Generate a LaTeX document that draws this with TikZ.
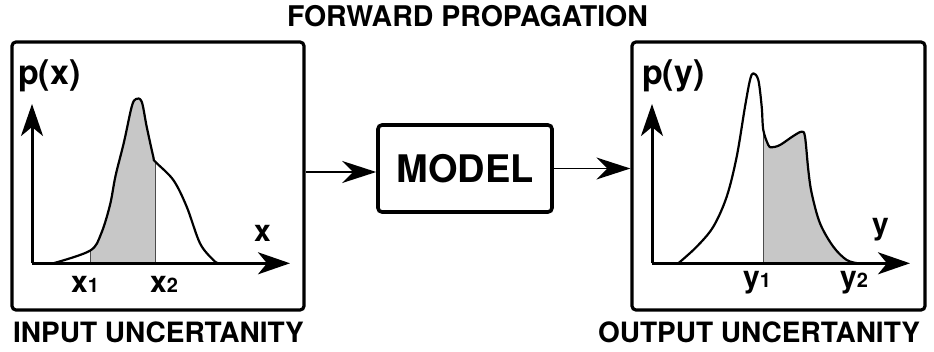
\documentclass[tikz,border=0pt]{standalone}
\usepackage{fontspec}
\setmainfont{TeX Gyre Heros}
\usetikzlibrary{arrows.meta}

\newcommand{\fs}[1]{\fontsize{#1}{#1}\selectfont}

\tikzset{
  panel/.style={draw, line width=3.2pt, rounded corners=4pt, inner sep=0pt},
  modelbox/.style={draw, line width=3.6pt, rounded corners=4pt, inner sep=0pt,
    minimum width=174pt, minimum height=87pt, font=\fs{38}\bfseries},
  axis/.style={line width=3pt, -{Stealth[length=32pt, width=22pt, inset=9pt]}},
  conn/.style={line width=1.6pt, -{Stealth[length=34pt, width=22pt, inset=11pt]}},
  density/.style={line width=2.2pt, line join=round},
  band/.style={fill=black!22},
  cut/.style={line width=1pt, black!70},
  caption/.style={inner sep=0pt, anchor=base, font=\fs{28.5}\bfseries},
  axlabel/.style={inner sep=0pt, anchor=base west, font=\fs{30}\bfseries},
  plabel/.style={inner sep=0pt, anchor=base west, font=\fs{34}\bfseries},
}

\newcommand{\sub}[1]{{\fs{20}\bfseries #1}}

\begin{document}
\begin{tikzpicture}[x=1pt, y=-1pt]
  \useasboundingbox (0,0) rectangle (934,352);

  % frames and model block
  \node[panel, minimum width=292pt, minimum height=268pt] (inbox) at (158,176) {};
  \node[panel, minimum width=293pt, minimum height=268pt] (outbox) at (778.5,176) {};
  \node[modelbox] (model) at (465,168.5) {MODEL};

  % captions
  \node[caption] (title) at (467.5,26.5) {FORWARD PROPAGATION};
  \node[caption, font=\fs{28}\bfseries] (incap) at (158.5,343) {INPUT UNCERTANITY};
  \node[caption, font=\fs{28}\bfseries] (outcap) at (759,343) {OUTPUT UNCERTANITY};

  % flow through the model
  \coordinate (inlet) at ([yshift=-3.5pt]model.west);
  \draw[conn] (inlet -| inbox.east) -- (inlet);
  \draw[conn] (model.east) -- (model.east -| outbox.west);

  % ---------- input density ----------
  \def\incurve{(53.3,263.3) (90,250.7) (101,234) (110,205) (115.5,176)
    (124,142) (131.7,106.7) (136,99) (141.7,101.7)
    (146.7,126.7) (153.3,156.7) (155.3,161.7) (173.3,180) (186.7,206.7)
    (200,243.3) (213.3,260) (218.3,263.3)}
  \begin{scope}
    \clip (90,0) rectangle (155.3,263.3);
    \fill[band] plot[smooth, tension=0.55] coordinates {\incurve} -- cycle;
  \end{scope}
  \draw[cut] (90,263.3) -- (90,250.7);
  \draw[cut] (155.3,263.3) -- (155.3,161.7);
  \draw[density] plot[smooth, tension=0.55] coordinates {\incurve};

  \coordinate (xo) at (32,263.3);
  \draw[axis] (xo) -- (32,104);
  \draw[axis] (xo) -- (290,263.3);

  \node[plabel] (px) at (18,85) {p(x)};
  \node[axlabel] (xl) at (254,242) {x};
  \node[axlabel] (x1) at (71,293) {x\sub{1}};
  \node[axlabel] (x2) at (150,293) {x\sub{2}};

  % ---------- output density ----------
  \def\outcurve{(678.3,263.3) (696.7,246.7) (713.3,226.7) (726.7,196.7)
    (736.7,156.7) (745,106.7) (750,80) (753.3,73.3) (758.3,80)
    (761.7,106.7) (763.3,130) (768.3,145) (771.7,147.3) (780,145)
    (793.3,136) (801.7,131.7) (805,136.7) (808.3,170) (811.7,193.3)
    (820,223.3) (833.3,246.7) (846.7,260) (858.3,263.3)}
  \begin{scope}
    \clip (763.3,0) rectangle (870,263.3);
    \fill[band] plot[smooth, tension=0.55] coordinates {\outcurve} -- cycle;
  \end{scope}
  \draw[cut] (763.3,263.3) -- (763.3,130);
  \draw[density] plot[smooth, tension=0.55] coordinates {\outcurve};

  \coordinate (yo) at (652,263.3);
  \draw[axis] (yo) -- (652,104);
  \draw[axis] (yo) -- (910,263.3);

  \node[plabel] (py) at (642,85) {p(y)};
  \node[axlabel] (yl) at (872,235) {y};
  \node[axlabel] (y1) at (743,288) {y\sub{1}};
  \node[axlabel] (y2) at (840,288) {y\sub{2}};
\end{tikzpicture}
\end{document}
